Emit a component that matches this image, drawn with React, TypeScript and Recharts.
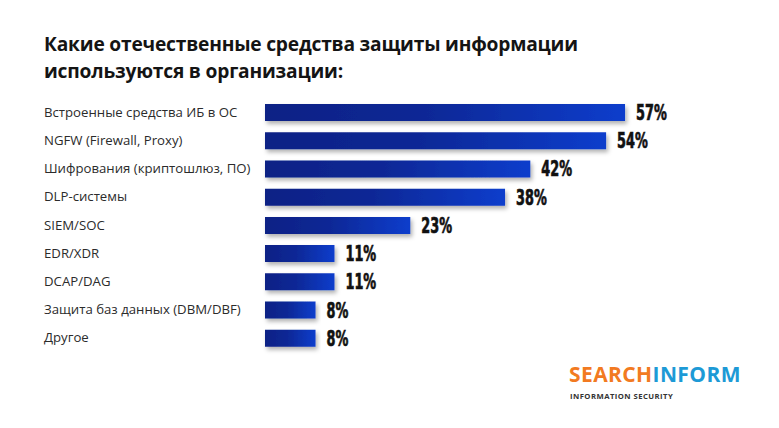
import { BarChart, Bar, XAxis, YAxis, LabelList } from "recharts";

// Survey: which domestic information-security tools are used in organisations
const categories = [
  "Встроенные средства ИБ в ОС",
  "NGFW (Firewall, Proxy)",
  "Шифрования (криптошлюз, ПО)",
  "DLP-системы",
  "SIEM/SOC",
  "EDR/XDR",
  "DCAP/DAG",
  "Защита баз данных (DBM/DBF)",
  "Другое",
];
const shares = [57, 54, 42, 38, 23, 11, 11, 8, 8];

const data = categories.map((name, i) => ({ name, value: shares[i] }));

const CategoryTick = (props: any) => {
  const { y, payload } = props;
  return (
    <text
      x={44}
      y={y}
      dy={4.5}
      textAnchor="start"
      fontFamily="'Open Sans', sans-serif"
      fontSize={13.2}
      fill="#2b2b2b"
    >
      {payload.value}
    </text>
  );
};

const ValueLabel = (props: any) => {
  const { x, y, width, height, value } = props;
  const tx = x + width + 11;
  const ty = y + height / 2;
  return (
    <text
      transform={`translate(${tx},${ty}) scale(0.68,1)`}
      x={0}
      y={0}
      dy={7.5}
      fontFamily="'Liberation Sans Narrow', 'DejaVu Sans Condensed', sans-serif"
      fontWeight="bold"
      fontSize={21}
      fill="#111"
      stroke="#111"
      strokeWidth={0.7}
    >
      {value}%
    </text>
  );
};

export default function App() {
  return (
    <div
      style={{
        position: "absolute",
        left: 0,
        top: 0,
        width: 779,
        height: 428,
        background: "#fff",
        overflow: "hidden",
      }}
    >
      <div
        style={{
          position: "absolute",
          left: 44,
          top: 30,
          width: 620,
          fontFamily: "'Open Sans', sans-serif",
          fontWeight: 700,
          fontSize: 19.2,
          lineHeight: "27px",
          color: "#141414",
          letterSpacing: -0.2,
        }}
      >
        Какие отечественные средства защиты информации
        <br />
        используются в организации:
      </div>

      <BarChart
        width={779}
        height={428}
        data={data}
        layout="vertical"
        margin={{ top: 98, right: 135, bottom: 76, left: 0 }}
        style={{ position: "absolute", left: 0, top: 0 }}
      >
        <defs>
          <linearGradient id="barFill" x1="0" y1="0" x2="1" y2="0">
            <stop offset="0%" stopColor="#0b2185" />
            <stop offset="45%" stopColor="#0b2896" />
            <stop offset="100%" stopColor="#0e3dcc" />
          </linearGradient>
          <filter id="barShadow" x="-5%" y="-30%" width="115%" height="180%">
            <feDropShadow dx="2" dy="3" stdDeviation="2" floodColor="#000" floodOpacity="0.3" />
          </filter>
        </defs>
        <XAxis type="number" domain={[0, 60]} hide />
        <YAxis
          type="category"
          dataKey="name"
          width={265}
          axisLine={false}
          tickLine={false}
          tick={<CategoryTick />}
          interval={0}
        />
        <Bar
          dataKey="value"
          fill="url(#barFill)"
          barSize={17}
          filter="url(#barShadow)"
          isAnimationActive={false}
        >
          <LabelList dataKey="value" content={<ValueLabel />} />
        </Bar>
      </BarChart>

      <div
        style={{
          position: "absolute",
          left: 569,
          top: 364,
          fontFamily: "'Open Sans', sans-serif",
          fontWeight: 700,
          fontSize: 21,
          letterSpacing: 0.4,
          lineHeight: "21px",
          whiteSpace: "nowrap",
        }}
      >
        <span style={{ color: "#f27a21" }}>SEARCH</span>
        <span style={{ color: "#1d9ad6" }}>INFORM</span>
      </div>
      <div
        style={{
          position: "absolute",
          left: 570,
          top: 392,
          fontFamily: "'Open Sans', sans-serif",
          fontWeight: 700,
          fontSize: 7.7,
          lineHeight: "8px",
          letterSpacing: 0.45,
          color: "#333",
          whiteSpace: "nowrap",
        }}
      >
        INFORMATION SECURITY
      </div>
    </div>
  );
}
